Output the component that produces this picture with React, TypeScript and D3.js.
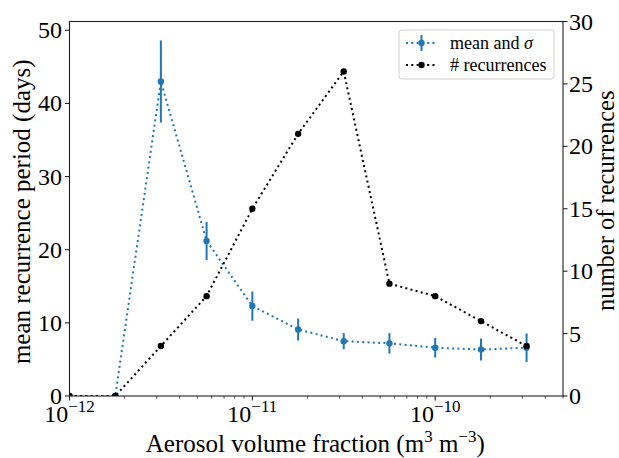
import React from "react";
import * as d3 from "d3";

const fractions = [1e-12, 1.78e-12, 3.16e-12, 5.62e-12, 1e-11, 1.78e-11, 3.16e-11, 5.62e-11, 1e-10, 1.78e-10, 3.16e-10];
const meanPeriod = [0, 0, 43.0, 21.2, 12.3, 9.1, 7.5, 7.2, 6.6, 6.35, 6.6];
const sigma = [0, 0, 5.6, 2.6, 2.0, 1.5, 1.1, 1.4, 1.35, 1.5, 1.95];
const recurrences = [0, 0, 4, 8, 15, 21, 26, 9, 8, 6, 4];
const leftTicks = [0, 10, 20, 30, 40, 50];
const rightTicks = [0, 5, 10, 15, 20, 25, 30];
const xMajorExps = [-12, -11, -10];

const W = 619, H = 458;
const L = 69.5, R = 563, T = 21.5, B = 396;
const BLUE = "#1f77b4";
const FONT = "'Liberation Serif', 'Times New Roman', serif";

export default function App() {
  const x = d3.scaleLog().domain([1e-12, 5e-10]).range([L, R]);
  const yL = d3.scaleLinear().domain([0, 51.2]).range([B, T]);
  const yR = d3.scaleLinear().domain([0, 30]).range([B, T]);

  const blueLine = d3.line<number>().x((_, i) => x(fractions[i])).y((d) => yL(d))(meanPeriod) || "";
  const blackLine = d3.line<number>().x((_, i) => x(fractions[i])).y((d) => yR(d))(recurrences) || "";

  const minor: number[] = [];
  xMajorExps.forEach((e) => {
    for (let m = 2; m <= 9; m++) {
      const v = m * Math.pow(10, e);
      if (v <= 5e-10) minor.push(v);
    }
  });

  const dash = "2,3.3";

  return (
    <div style={{ position: "absolute", left: 0, top: 0 }}>
      <svg width={W} height={H} style={{ display: "block", background: "#fff" }} fontFamily={FONT}>
        <defs>
          <clipPath id="plot">
            <rect x={L} y={T} width={R - L} height={B - T} />
          </clipPath>
        </defs>
        <rect x={0} y={0} width={W} height={H} fill="#fff" />
        <g clipPath="url(#plot)">
          {fractions.map((f, i) =>
            sigma[i] > 0 ? (
              <line key={"e" + i} x1={x(f)} x2={x(f)} y1={yL(meanPeriod[i] - sigma[i])} y2={yL(meanPeriod[i] + sigma[i])} stroke={BLUE} strokeWidth={2} />
            ) : null
          )}
          <path d={blueLine} fill="none" stroke={BLUE} strokeWidth={2} strokeDasharray={dash} />
          {fractions.map((f, i) => (
            <circle key={"b" + i} cx={x(f)} cy={yL(meanPeriod[i])} r={3.2} fill={BLUE} />
          ))}
          <path d={blackLine} fill="none" stroke="#000" strokeWidth={2} strokeDasharray={dash} />
          {fractions.map((f, i) => (
            <circle key={"k" + i} cx={x(f)} cy={yR(recurrences[i])} r={3.2} fill="#000" />
          ))}
        </g>

        {/* spines */}
        <rect x={L} y={T} width={R - L} height={B - T} fill="none" stroke="#222" strokeWidth={1.1} />

        {/* x ticks */}
        {minor.map((v, i) => (
          <line key={"mn" + i} x1={x(v)} x2={x(v)} y1={B} y2={B + 2.5} stroke="#222" strokeWidth={0.8} />
        ))}
        {xMajorExps.map((e) => {
          const v = Math.pow(10, e);
          const px = x(v);
          return (
            <g key={"xm" + e}>
              <line x1={px} x2={px} y1={B} y2={B + 4.5} stroke="#222" strokeWidth={1.1} />
              <text x={px} y={421.5} textAnchor="middle" fontSize={24} fill="#000">
                10
                <tspan dy={-10} fontSize={17}>{"\u2212" + Math.abs(e)}</tspan>
              </text>
            </g>
          );
        })}

        {/* left y ticks */}
        {leftTicks.map((t) => (
          <g key={"l" + t}>
            <line x1={L - 4.5} x2={L} y1={yL(t)} y2={yL(t)} stroke="#222" strokeWidth={1.1} />
            <text x={L - 7.5} y={yL(t) + 8} textAnchor="end" fontSize={24} fill="#000">{t}</text>
          </g>
        ))}
        {/* right y ticks */}
        {rightTicks.map((t) => (
          <g key={"r" + t}>
            <line x1={R} x2={R + 4.5} y1={yR(t)} y2={yR(t)} stroke="#222" strokeWidth={1.1} />
            <text x={R + 6} y={yR(t) + 8} textAnchor="start" fontSize={24} fill="#000">{t}</text>
          </g>
        ))}

        {/* axis labels */}
        <text x={(L + R) / 2 - 1} y={452} textAnchor="middle" fontSize={25} fill="#000">
          Aerosol volume fraction (m
          <tspan dy={-10} fontSize={17}>3</tspan>
          <tspan dy={10}> m</tspan>
          <tspan dy={-10} fontSize={17}>{"\u22123"}</tspan>
          <tspan dy={10}>)</tspan>
        </text>
        <text transform={`translate(30,${(T + B) / 2 + 3}) rotate(-90)`} textAnchor="middle" fontSize={25} fill="#000">
          mean recurrence period (days)
        </text>
        <text transform={`translate(614,${(T + B) / 2 - 8}) rotate(-90)`} textAnchor="middle" fontSize={24.5} fill="#000">
          number of recurrences
        </text>

        {/* legend */}
        <g>
          <rect x={399} y={30} width={155} height={49} rx={3} fill="#fff" fillOpacity={0.8} stroke="#d0d0d0" strokeWidth={1} />
          <line x1={406} x2={437} y1={43} y2={43} stroke={BLUE} strokeWidth={2} strokeDasharray={dash} />
          <line x1={421.5} x2={421.5} y1={35} y2={51} stroke={BLUE} strokeWidth={2} />
          <circle cx={421.5} cy={43} r={3.2} fill={BLUE} />
          <text x={450} y={49} fontSize={18} fill="#000">
            mean and <tspan fontStyle="italic">σ</tspan>
          </text>
          <line x1={406} x2={437} y1={65} y2={65} stroke="#000" strokeWidth={2} strokeDasharray={dash} />
          <circle cx={421.5} cy={65} r={3.2} fill="#000" />
          <text x={450} y={71} fontSize={18} fill="#000"># recurrences</text>
        </g>
      </svg>
    </div>
  );
}
